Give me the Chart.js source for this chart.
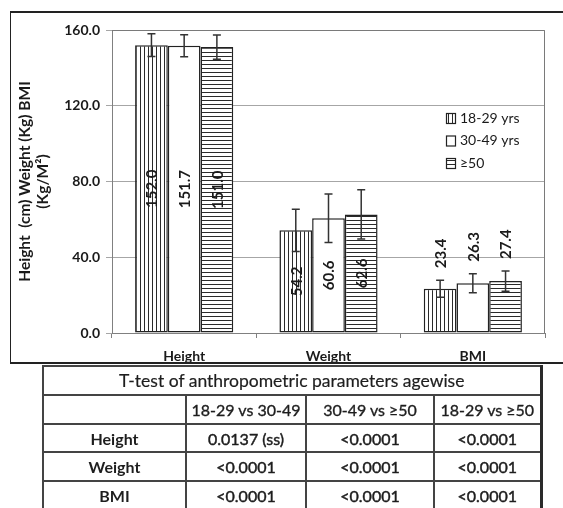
<!DOCTYPE html>
<html>
<head>
<meta charset="utf-8">
<script src="https://cdn.jsdelivr.net/npm/chart.js@4.4.1/dist/chart.umd.min.js"></script>
<style>
  html, body { margin: 0; padding: 0; background: #fff; }
  #wrap { position: relative; width: 563px; height: 508px; overflow: hidden; background: #fff; }
  #chart { position: absolute; left: 0; top: 0; }
  .line { position: absolute; background: #222; }
  #tt {
    position: absolute; left: 42px; top: 365px; width: 498px;
    border-collapse: collapse; table-layout: fixed;
    font-family: Lato, "Open Sans", sans-serif; font-size: 16px; color: #1e1e1e;
    border: 2px solid #2a2a2a; border-right-width: 3px;
  }
  #tt td, #tt th { border: 2px solid #444; text-align: center; padding: 0; height: 25px; white-space: nowrap; }
  #tt th.title { font-weight: normal; font-size: 17.5px; -webkit-text-stroke: 0.2px #1e1e1e; }
  #tt th.row { font-weight: bold; }
  #tt td.head { font-weight: normal; -webkit-text-stroke: 0.35px #1e1e1e; }
  #tt td.val { font-weight: normal; -webkit-text-stroke: 0.45px #1e1e1e; }
</style>
</head>
<body>
<div id="wrap">
  <canvas id="chart" width="563" height="364"></canvas>
  <div class="line" style="left:10px;top:11px;width:553px;height:2px;"></div>
  <div class="line" style="left:10px;top:12px;width:1px;height:352px;"></div>
  <div class="line" style="left:10px;top:362px;width:553px;height:2px;"></div>
  <table id="tt"></table>
</div>
<script>
// Bar chart data: mean values per age group with standard deviations
const categories = ['Height', 'Weight', 'BMI'];
const groupLabels = ['18-29 yrs', '30-49 yrs', '\u226550'];
const meansYoung = [152.0, 54.2, 23.4];
const meansMiddle = [151.7, 60.6, 26.3];
const meansOld = [151.0, 62.6, 27.4];
const sdYoung = [6.0, 11.2, 4.5];
const sdMiddle = [5.8, 12.8, 5.0];
const sdOld = [6.4, 13.0, 5.3];
const yTicks = [0, 40, 80, 120, 160];
const yAxisTitle = ['Height  (cm) Weight (Kg) BMI', '(Kg/M\u00b2)'];

// T-test table
const tableTitle = 'T-test of anthropometric parameters agewise';
const comparisons = ['18-29 vs 30-49', '30-49 vs \u226550', '18-29 vs \u226550'];
const tableRows = ['Height', 'Weight', 'BMI'];
const pHeight = ['0.0137 (ss)', '<0.0001', '<0.0001'];
const pWeight = ['<0.0001', '<0.0001', '<0.0001'];
const pBmi = ['<0.0001', '<0.0001', '<0.0001'];

// ---- table ----
(function buildTable() {
  const t = document.getElementById('tt');
  const widths = [143, 120, 128, 107];
  let html = '<colgroup>' + widths.map(w => '<col style="width:' + w + 'px">').join('') + '</colgroup>';
  html += '<tr style="height:29px"><th class="title" colspan="4">' + tableTitle + '</th></tr>';
  html += '<tr style="height:29px"><td></td>' + comparisons.map(c => '<td class="head">' + c + '</td>').join('') + '</tr>';
  const vals = [pHeight, pWeight, pBmi];
  const hs = [28, 29, 29];
  tableRows.forEach((r, i) => {
    html += '<tr style="height:' + hs[i] + 'px"><th class="row">' + r + '</th>' +
      vals[i].map(v => '<td class="val">' + v.replace('<', '&lt;') + '</td>').join('') + '</tr>';
  });
  t.innerHTML = html;
})();

// ---- fill patterns ----
function stripePattern(vertical) {
  const c = document.createElement('canvas');
  c.width = 4; c.height = 4;
  const g = c.getContext('2d');
  g.fillStyle = '#fff';
  g.fillRect(0, 0, 4, 4);
  g.fillStyle = '#2a2a2a';
  if (vertical) g.fillRect(0, 0, 1, 4); else g.fillRect(0, 0, 4, 1);
  return g.createPattern(c, 'repeat');
}
const fills = [stripePattern(true), '#ffffff', stripePattern(false)];
const seriesMeans = [meansYoung, meansMiddle, meansOld];
const seriesSd = [sdYoung, sdMiddle, sdOld];

const FONT = 'Lato, "Open Sans", sans-serif';

// error bars drawn over each bar
const errorBars = {
  id: 'errorBars',
  afterDatasetsDraw(chart) {
    const ctx = chart.ctx;
    const y = chart.scales.y;
    ctx.save();
    ctx.strokeStyle = '#333';
    ctx.lineWidth = 1.5;
    chart.data.datasets.forEach((ds, i) => {
      chart.getDatasetMeta(i).data.forEach((bar, j) => {
        const v = ds.data[j], sd = seriesSd[i][j];
        const yt = y.getPixelForValue(v + sd), yb = y.getPixelForValue(v - sd);
        ctx.beginPath();
        ctx.moveTo(bar.x, yt); ctx.lineTo(bar.x, yb);
        ctx.moveTo(bar.x - 4, yt); ctx.lineTo(bar.x + 4, yt);
        ctx.moveTo(bar.x - 4, yb); ctx.lineTo(bar.x + 4, yb);
        ctx.stroke();
      });
    });
    ctx.restore();
  }
};

// vertical value labels: centred in tall bars, above the whisker on short ones
const valueLabels = {
  id: 'valueLabels',
  afterDatasetsDraw(chart) {
    const ctx = chart.ctx;
    const y = chart.scales.y;
    ctx.save();
    ctx.font = 'bold 15px ' + FONT;
    ctx.fillStyle = '#1a1a1a';
    ctx.textAlign = 'center';
    ctx.textBaseline = 'middle';
    chart.data.datasets.forEach((ds, i) => {
      chart.getDatasetMeta(i).data.forEach((bar, j) => {
        const v = ds.data[j];
        const txt = v.toFixed(1);
        const w = ctx.measureText(txt).width;
        let cy;
        if (bar.base - bar.y > 80) cy = (bar.y + bar.base) / 2;
        else cy = y.getPixelForValue(v + seriesSd[i][j]) - 12 - w / 2;
        ctx.save();
        ctx.translate(bar.x + 1, cy);
        ctx.rotate(-Math.PI / 2);
        ctx.fillText(txt, 0, 0);
        ctx.restore();
      });
    });
    ctx.restore();
  }
};

// frame around the plot area
const plotFrame = {
  id: 'plotFrame',
  afterDraw(chart) {
    const a = chart.chartArea, ctx = chart.ctx;
    ctx.save();
    ctx.strokeStyle = '#7a7a7a';
    ctx.lineWidth = 1;
    ctx.beginPath();
    ctx.moveTo(a.left, a.top + 0.5); ctx.lineTo(a.right - 0.5, a.top + 0.5); ctx.lineTo(a.right - 0.5, a.bottom);
    ctx.stroke();
    ctx.restore();
  }
};

// legend placed inside the plot, at the right
const insideLegend = {
  id: 'insideLegend',
  afterDraw(chart) {
    const a = chart.chartArea, ctx = chart.ctx;
    ctx.save();
    ctx.font = '14px ' + FONT;
    ctx.textBaseline = 'middle';
    ctx.textAlign = 'left';
    chart.data.datasets.forEach((ds, i) => {
      const bx = a.right - 99, cy = a.top + 88 + i * 22.5;
      ctx.fillStyle = ds.backgroundColor;
      ctx.fillRect(bx, cy - 5, 9, 10);
      ctx.strokeStyle = '#222';
      ctx.lineWidth = 1.2;
      ctx.strokeRect(bx + 0.5, cy - 5 + 0.5, 9, 10);
      ctx.fillStyle = '#1a1a1a';
      ctx.fillText(ds.label, bx + 14, cy);
    });
    ctx.restore();
  }
};

new Chart(document.getElementById('chart'), {
  type: 'bar',
  data: {
    labels: categories,
    datasets: groupLabels.map((lab, i) => ({
      label: lab,
      data: seriesMeans[i],
      backgroundColor: fills[i],
      borderColor: '#222',
      borderWidth: 1.5,
      borderSkipped: false,
      categoryPercentage: 0.68,
      barPercentage: 1.0
    }))
  },
  options: {
    responsive: false,
    animation: false,
    devicePixelRatio: 1,
    layout: { padding: { left: 10, right: 18, top: 30, bottom: 0 } },
    plugins: { legend: { display: false }, tooltip: { enabled: false } },
    scales: {
      x: {
        afterFit(s) { s.height = 31; },
        grid: { offset: true, drawOnChartArea: false, tickLength: 5, color: '#808080' },
        border: { color: '#808080' },
        ticks: { padding: 10, color: '#1a1a1a', font: { family: FONT, size: 14, weight: 'bold' } }
      },
      y: {
        min: yTicks[0],
        max: yTicks[yTicks.length - 1],
        afterFit(s) { s.width = 102; },
        afterBuildTicks(s) { s.ticks = yTicks.map(v => ({ value: v })); },
        grid: { color: '#a6a6a6', tickLength: 6 },
        border: { color: '#808080' },
        ticks: {
          padding: 6, color: '#1a1a1a',
          font: { family: FONT, size: 14, weight: 'bold' },
          callback: v => Number(v).toFixed(1)
        },
        title: {
          display: true,
          text: yAxisTitle,
          color: '#1a1a1a',
          padding: { top: 6, bottom: 0 },
          font: { family: FONT, size: 15.5, weight: 'bold', lineHeight: 1.15 }
        }
      }
    }
  },
  plugins: [errorBars, valueLabels, plotFrame, insideLegend]
});
</script>
</body>
</html>
